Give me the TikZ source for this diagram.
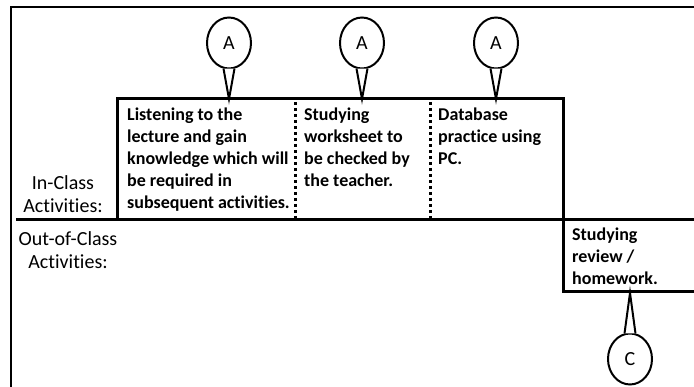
\documentclass[tikz,border=0pt]{standalone}
\usepackage{fontspec}
\setmainfont{Carlito}[Ligatures=NoCommon]
\usetikzlibrary{shapes.geometric}
\newcommand\labelfont{\fontsize{18}{22}\selectfont}
\begin{document}
\begin{tikzpicture}[x=1pt,y=-1pt,font=\labelfont]
\useasboundingbox (0,0) rectangle (694,387);

% frame and the two rows
\draw[line width=2pt] (11,387) -- (11,7) -- (694,7);
\draw[line width=3pt] (16,220) -- (694,220);
\draw[line width=3pt] (117,220) -- (117,99) -- (563,99) -- (563,292) -- (694,292);
\begin{scope}[every path/.style={line width=3pt,dash pattern=on 3pt off 3pt}]
	\draw (295,102) -- (295,220);
	\draw (430,102) -- (430,220);
\end{scope}

\begin{scope}[every node/.style={align=center,font=\fontsize{20}{23}\selectfont}]
	\node (inclass) at (63,194) {In-Class\\Activities:};
	\node (outclass) at (68,250) {Out-of-Class\\Activities:};
\end{scope}

\begin{scope}[every node/.style={anchor=north west,align=left,inner sep=0pt,font=\labelfont\bfseries}]
	\node (lecture) at (127,108) {Listening to the\\lecture and gain\\knowledge which will\\be required in\\subsequent activities.};
	\node (worksheet) at (304,108) {Studying\\worksheet to\\be checked by\\the teacher.};
	\node (database) at (438,108) {Database\\practice using\\PC.};
	\node (review) at (572,228) {Studying\\review /\\homework.};
\end{scope}

% balloons
\begin{scope}[every node/.style={ellipse,draw,line width=2pt,minimum width=44pt,minimum height=51pt,inner sep=0pt,font=\fontsize{20}{24}\selectfont}]
	\node (a1) at (229,43) {A};
	\node (a2) at (362,43) {A};
	\node (a3) at (496,43) {A};
	\node (c) at (630,359) {C};
\end{scope}
\coordinate (t1) at (229,99);
\coordinate (t2) at (362,99);
\coordinate (t3) at (496,99);
\coordinate (tc) at (630,293);

\begin{scope}[every path/.style={draw,line width=2pt,fill=white}]
	\path (a1.-102) -- (t1) -- (a1.-78);
	\path (a2.-102) -- (t2) -- (a2.-78);
	\path (a3.-102) -- (t3) -- (a3.-78);
	\path (c.102) -- (tc) -- (c.78);
\end{scope}
\end{tikzpicture}
\end{document}
